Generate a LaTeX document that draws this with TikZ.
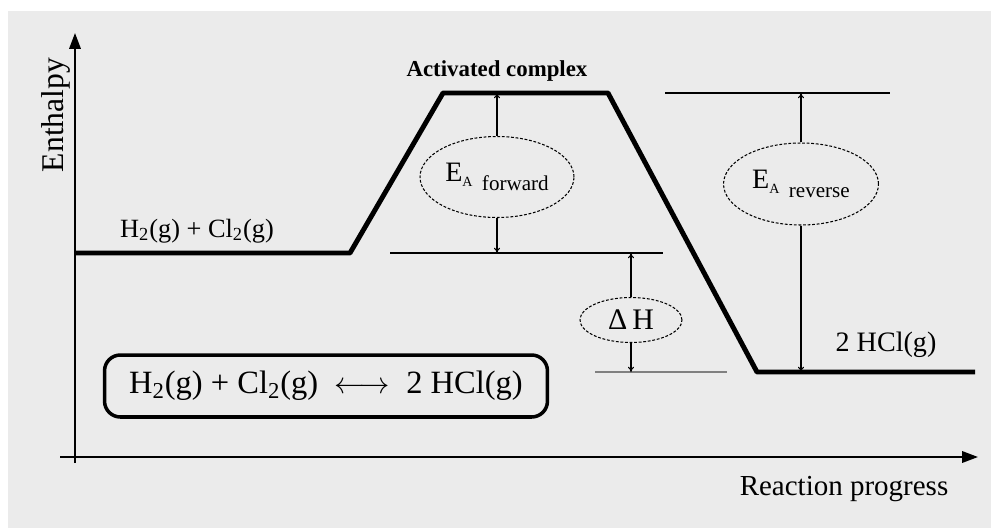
\documentclass[tikz,border=0pt]{standalone}
\usepackage{fontspec}
\setmainfont{Liberation Serif}
\usetikzlibrary{arrows.meta,shapes.geometric}
\begin{document}
\begin{tikzpicture}[x=0.02cm,y=-0.02cm,
  level/.style={line width=2.8pt,line join=round},
  guide/.style={line width=0.8pt},
  dim/.style={line width=0.6pt,-{To[length=3pt,width=3.5pt]}},
  tag/.style={ellipse,draw,line width=0.6pt,dash pattern=on 1.6pt off 1pt,inner sep=0pt,font=\fontsize{16}{18}\selectfont},
  axis/.style={line width=1.1pt,-{Triangle[length=9pt,width=6.5pt]}},
  txt/.style={inner sep=0pt,anchor=base,font=\fontsize{16}{18}\selectfont}]
\useasboundingbox (0,0) rectangle (991,528);
\fill[black!8] (8,11) rectangle (991,528);
% axes
\coordinate (ytop) at (75,33);
\coordinate (xend) at (978,457);
\draw[axis] (75,463) -- (ytop);
\draw[axis] (60,457) -- (xend);
\node[txt,rotate=90,font=\fontsize{18}{20}\selectfont] (ylab) at (63,115) {Enthalpy};
\node[txt,font=\fontsize{16.5}{18}\selectfont] (xlab) at (844,495) {Reaction progress};
% reaction path
\coordinate (r0) at (75,253);
\coordinate (r1) at (350,253);
\coordinate (t0) at (443,93);
\coordinate (t1) at (608,93);
\coordinate (p0) at (757,372);
\coordinate (p1) at (975,372);
\draw[level] (r0) -- (r1) -- (t0) -- (t1) -- (p0) -- (p1);
% guide lines
\draw[guide] (390,253) -- (663,253);
\draw[guide] (665,93) -- (890,93);
\draw[guide,gray] (595,372) -- (727,372);
% labels
\node[txt,font=\fontsize{13}{15}\selectfont\bfseries] (act) at (497,76) {Activated complex};
\node[txt,font=\fontsize{15}{17}\selectfont] (rlab) at (197,237) {H\textsubscript{2}(g) + Cl\textsubscript{2}(g)};
\node[txt] (plab) at (886,351) {2 HCl(g)};
% energy tags
\node[tag,minimum width=3.08cm,minimum height=1.62cm] (eaf) at (497,177)
  {E\raisebox{-3pt}{\fontsize{8}{8}\selectfont A}\,\,\raisebox{-5.5pt}{\fontsize{12}{12}\selectfont forward}};
\node[tag,minimum width=3.1cm,minimum height=1.64cm] (ear) at (801,184)
  {E\raisebox{-3pt}{\fontsize{8}{8}\selectfont A}\,\,\raisebox{-5.5pt}{\fontsize{12}{12}\selectfont reverse}};
\node[tag,minimum width=2.04cm,minimum height=0.9cm,font=\fontsize{17}{19}\selectfont] (dh) at (631,320) {Δ\,H};
\draw[dim] (eaf.north) -- (eaf.north |- t0);
\draw[dim] (eaf.south) -- (eaf.south |- r1);
\draw[dim] (ear.north) -- (ear.north |- t1);
\draw[dim] (ear.south) -- (ear.south |- p0);
\draw[dim] (dh.north) -- (dh.north |- r1);
\draw[dim] (dh.south) -- (dh.south |- p0);
% equation box
\node[draw,rounded corners=9pt,line width=2pt,minimum width=8.86cm,minimum height=1.24cm,font=\fontsize{18.5}{20}\selectfont] (eqn) at (326,386)
  {H\textsubscript{2}(g) + Cl\textsubscript{2}(g)\enspace$\longleftrightarrow$\enspace 2 HCl(g)};
\end{tikzpicture}
\end{document}
